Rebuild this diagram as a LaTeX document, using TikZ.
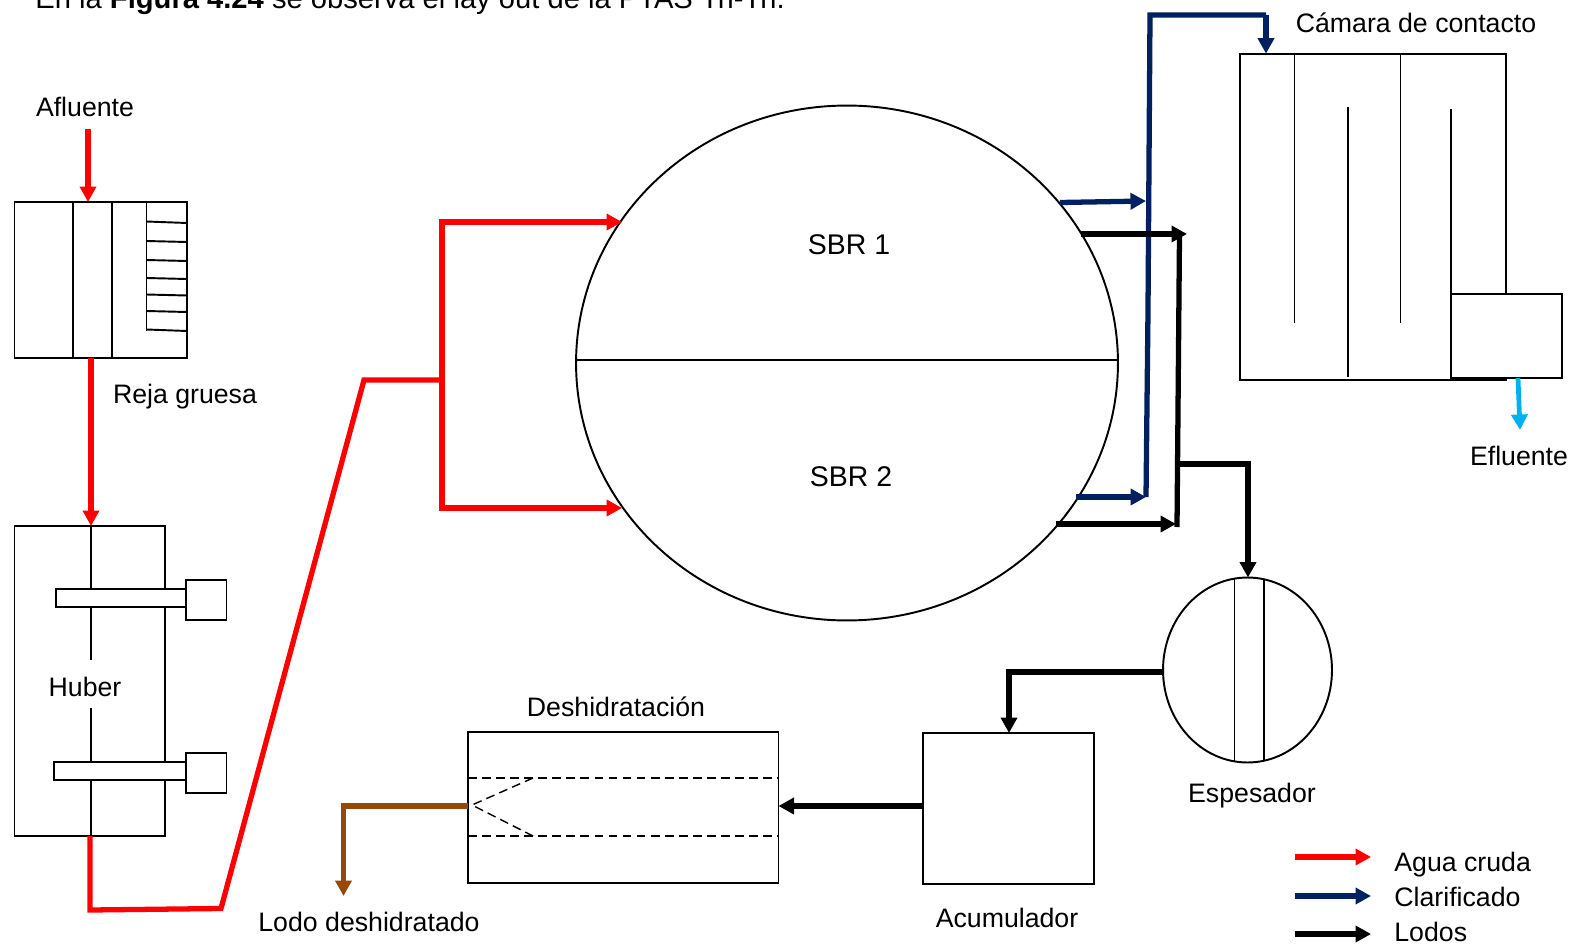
\documentclass[tikz,border=0pt]{standalone}
\usepackage{fontspec}
\setmainfont{Liberation Sans}
\usetikzlibrary{positioning,arrows.meta,calc,shapes.geometric}
\definecolor{clarif}{RGB}{0,32,96}
\definecolor{lodoseco}{RGB}{151,71,6}
\definecolor{efl}{RGB}{0,176,240}
\tikzset{
  unit/.style={draw,line width=1.1pt,inner sep=0pt,outer sep=0pt},
  fine/.style={line width=1.1pt},
  lbl/.style={font=\fontsize{15.2}{18}\selectfont,inner sep=0pt},
  cruda/.style={->,draw=red,line width=3pt},
  crudaline/.style={draw=red,line width=3pt},
  claro/.style={->,draw=clarif,line width=3pt},
  lodo/.style={->,draw=black,line width=3pt},
}
\begin{document}
\begin{tikzpicture}[x=0.02cm,y=-0.02cm,>={Triangle[length=3.1mm,width=3.2mm]}]
\useasboundingbox (0,0) rectangle (1575,946);
\node[lbl,anchor=base west,font=\fontsize{16.6}{18}\selectfont] (intro) at (35,9) {En la \textbf{Figura 4.24} se observa el lay out de la PTAS Tri-Tri.};
% Reja gruesa
\node[unit,minimum width=3.45cm,minimum height=3.12cm] (reja) at (100.75,280) {};
\draw[fine] (73,202) -- (73,358) (112,202) -- (112,358);
\draw[fine] (146.5,202) -- (146.5,331);
\foreach \ya/\yb in {221.5/223,241/242,260/261,278/279,294.5/295.5,311/312,329.5/331}
  \draw[fine] (146.5,\ya) -- (187,\yb);
\node[lbl] (afluente) at (85,107) {Afluente};
\node[lbl] (rejatxt) at (185,397) {Reja gruesa};
\coordinate (afin) at (88,129);
\draw[cruda] (afin) -- (afin |- reja.north);
% Huber
\node[unit,minimum width=3.01cm,minimum height=6.21cm] (huber) at (89.75,681) {};
\coordinate (hubtop) at (91,526);
\coordinate (hubup) at (91,660);
\coordinate (hubdown) at (91,708);
\coordinate (hubbot) at (91,836);
\draw[fine] (hubtop) -- (hubup) (hubdown) -- (hubbot);
\node[unit,fill=white,minimum width=2.6cm,minimum height=.37cm] (eje1) at (121,598) {};
\node[unit,fill=white,minimum width=2.64cm,minimum height=.37cm] (eje2) at (120,771) {};
\node[unit,fill=white,minimum width=.81cm,minimum height=.8cm,right=0pt of eje1,yshift=-1.1pt] (motor1) {};
\node[unit,fill=white,minimum width=.81cm,minimum height=.8cm,right=0pt of eje2,yshift=-1.1pt] (motor2) {};
\node[lbl] (hubertxt) at (85,687) {Huber};
\coordinate (rejaout) at (91,358);
\draw[cruda] (rejaout) -- (hubtop);
% SBR
\node[unit,ellipse,minimum width=10.84cm,minimum height=10.3cm] (sbr) at (847,363) {};
\coordinate (sbrmid) at (847,360);
\draw[fine] (sbrmid -| sbr.west) -- (sbrmid -| sbr.east);
\node[lbl,font=\fontsize{16.2}{18}\selectfont] (sbr1) at (849,245) {SBR 1};
\node[lbl,font=\fontsize{16.2}{18}\selectfont] (sbr2) at (851,477) {SBR 2};
\coordinate (h1) at (90,836);
\coordinate (h2) at (90,910);
\coordinate (h3) at (221,908.5);
\coordinate (h4) at (364,380);
\coordinate (jun) at (442,380);
\coordinate (junup) at (442,222);
\coordinate (jundown) at (442,508);
\coordinate (sbrin1) at (622,222);
\coordinate (sbrin2) at (622,508);
\draw[crudaline] (h1) -- (h2) -- (h3) -- (h4) -- (jun);
\draw[cruda] (jun) -- (junup) -- (sbrin1);
\draw[cruda] (jun) -- (jundown) -- (sbrin2);
% Camara de contacto
\node[unit,minimum width=5.33cm,minimum height=6.52cm] (camara) at (1372.8,216.6) {};
\draw[fine] (1294.5,53.6) -- (1294.5,322.6) (1348.4,107) -- (1348.4,376.6)
  (1400.5,53.6) -- (1400.5,322.6) (1450.6,109) -- (1450.6,294);
\node[unit,fill=white,minimum width=2.23cm,minimum height=1.68cm] (salida) at (1506.3,336) {};
\node[lbl] (camaratxt) at (1416,23) {Cámara de contacto};
\node[lbl] (efluente) at (1519,456) {Efluente};
\coordinate (salout) at (1518,378);
\coordinate (salfin) at (1520,430);
\draw[->,draw=efl,line width=2.7pt] (salout) -- (salfin);
% clarificado
\coordinate (cl1) at (1146,497);
\coordinate (cl2) at (1148,310);
\coordinate (cl3) at (1150,15);
\coordinate (cl4) at (1266,15);
\coordinate (cl0a) at (1060,202.5);
\coordinate (cl0b) at (1146,201);
\coordinate (cl0c) at (1076,497);
\draw[draw=clarif,line width=3pt] (cl1) -- (cl2) -- (cl3) -- (cl4);
\draw[claro] (cl4) -- (cl4 |- camara.north);
\draw[claro] (cl0a) -- (cl0b);
\draw[claro] (cl0c) -- (cl1);
% Espesador
\node[unit,ellipse,minimum width=3.38cm,minimum height=3.7cm] (espesador) at (1247.5,670) {};
\draw[fine] (1234.5,578.6) -- (1234.5,761.4) (1263.7,579) -- (1263.7,761);
\node[lbl] (espesadortxt) at (1252,796) {Espesador};
% lodos
\coordinate (lo1a) at (1081,234);
\coordinate (lo1b) at (1187,234);
\coordinate (lo2a) at (1056,524);
\coordinate (lo2b) at (1176,524);
\coordinate (lov1) at (1179.5,234);
\coordinate (lov2) at (1177,527);
\coordinate (lob) at (1178.5,464);
\coordinate (lob2) at (1248,464);
\draw[lodo] (lo1a) -- (lo1b);
\draw[lodo] (lo2a) -- (lo2b);
\draw[draw=black,line width=3pt] (lov1) -- (lov2);
\draw[lodo] (lob) -- (lob2) -- (espesador.north -| lob2);
% Acumulador
\node[unit,minimum width=3.42cm,minimum height=3.02cm] (acum) at (1008.5,808.5) {};
\node[lbl] (acumtxt) at (1007,918) {Acumulador};
\coordinate (es1) at (1009,672);
\draw[lodo] (espesador.west |- es1) -- (es1) -- (es1 |- acum.north);
% Deshidratacion
\node[unit,minimum width=6.21cm,minimum height=3.02cm] (deshi) at (623.3,807.8) {};
\draw[line width=.8pt,dash pattern=on 5pt off 3pt] (468,778) -- (778.7,778) (468,836) -- (778.7,836);
\draw[line width=.8pt,dash pattern=on 5pt off 3pt] (533,778) -- (472,805) -- (533,836);
\node[lbl] (deshitxt) at (616,707) {Deshidratación};
\node[lbl] (lodotxt) at (369,922) {Lodo deshidratado};
\coordinate (acout) at (923,806);
\draw[lodo] (acout) -- (acout -| deshi.east);
\coordinate (br1) at (343.5,806);
\coordinate (br2) at (343.5,896);
\draw[->,draw=lodoseco,line width=3pt] (br1 -| deshi.west) -- (br1) -- (br2);
% leyenda
\foreach \yy/\yt/\sty/\txt/\nm in {857/865/cruda/Agua cruda/ley1,896/897/claro/Clarificado/ley2,934/932/lodo/Lodos/ley3}{
  \coordinate (\nm a) at (1295,\yy);
  \coordinate (\nm b) at (1371,\yy);
  \draw[\sty] (\nm a) -- (\nm b);
  \node[lbl,anchor=west] (\nm) at (1394,\yt) {\txt};
}
\end{tikzpicture}
\end{document}
